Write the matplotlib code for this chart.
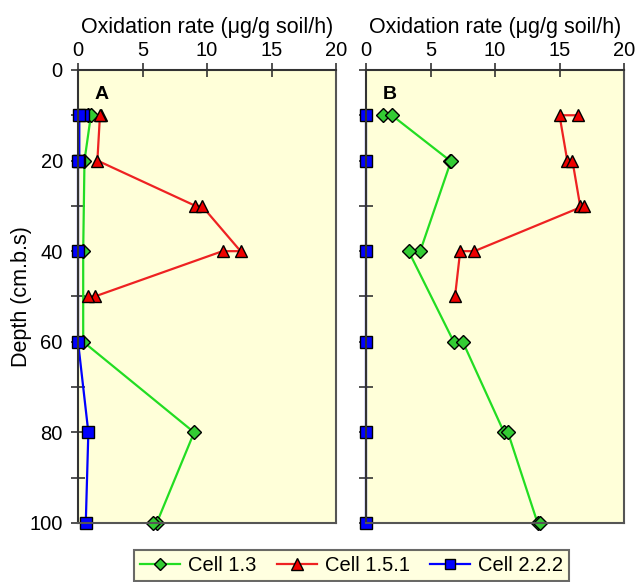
import matplotlib
matplotlib.use("Agg")
import matplotlib.pyplot as plt
from matplotlib.lines import Line2D

plt.rcParams['font.family'] = ['Liberation Sans', 'DejaVu Sans']

# Panel A (replicates listed in the order the profile line visits them)
depth_a_13 = [10, 10, 20, 40, 60, 80, 100, 100]
rate_a_13 = [0.8, 1.0, 0.5, 0.4, 0.4, 9.0, 6.1, 5.8]
depth_a_151 = [10, 10, 20, 30, 30, 40, 40, 50, 50]
rate_a_151 = [1.8, 1.7, 1.5, 9.1, 9.6, 12.6, 11.2, 1.3, 0.8]
depth_a_222 = [10, 10, 20, 20, 40, 60, 80, 100]
rate_a_222 = [0.4, 0.1, 0.1, 0.0, 0.0, 0.0, 0.8, 0.6]

# Panel B
depth_b_13 = [10, 10, 20, 20, 40, 40, 60, 60, 80, 80, 100, 100]
rate_b_13 = [1.3, 2.0, 6.5, 6.6, 4.2, 3.3, 6.8, 7.5, 10.7, 11.0, 13.3, 13.5]
depth_b_151 = [10, 10, 20, 20, 30, 30, 40, 40, 50]
rate_b_151 = [16.4, 15.0, 15.6, 16.0, 16.6, 16.9, 8.4, 7.3, 6.9]
depth_b_222 = [10, 20, 40, 60, 80, 100]
rate_b_222 = [0.0, 0.0, 0.0, 0.0, 0.0, 0.0]

series_names = ["Cell 1.3", "Cell 1.5.1", "Cell 2.2.2"]
x_ticks = [0, 5, 10, 15, 20]
y_ticks = list(range(0, 101, 10))
y_labels = ["0", "", "20", "", "40", "", "60", "", "80", "", "100"]

styles = [
    dict(color="#22DD22", marker="D", mfc="#33CC33", ms=7),
    dict(color="#EE2222", marker="^", mfc="#EE0000", ms=9),
    dict(color="#0000FF", marker="s", mfc="#0000FF", ms=8),
]

face = "#FFFFD9"
spine_col = "#555555"

fig = plt.figure(figsize=(6.37, 5.82), dpi=100)
axA = fig.add_axes([0.1225, 0.1014, 0.405, 0.7784])
axB = fig.add_axes([0.5746, 0.1014, 0.405, 0.7784])

panels = [
    (axA, "A", [(rate_a_13, depth_a_13), (rate_a_151, depth_a_151), (rate_a_222, depth_a_222)]),
    (axB, "B", [(rate_b_13, depth_b_13), (rate_b_151, depth_b_151), (rate_b_222, depth_b_222)]),
]

for ax, tag, data in panels:
    ax.set_facecolor(face)
    for (x, y), st in zip(data, styles):
        ax.plot(x, y, color=st["color"], lw=1.6, marker=st["marker"],
                mfc=st["mfc"], mec="black", mew=1.0, ms=st["ms"], clip_on=False)
    ax.set_xlim(0, 20)
    ax.set_ylim(100, 0)
    ax.xaxis.tick_top()
    ax.xaxis.set_label_position("top")
    ax.set_xticks(x_ticks)
    ax.set_yticks(y_ticks)
    ax.tick_params(axis="both", direction="inout", length=10, width=1.2,
                   color="#333333", labelsize=14.5)
    ax.tick_params(axis="x", pad=2)
    ax.tick_params(axis="y", pad=6)
    ax.set_xlabel("Oxidation rate (\u03bcg/g soil/h)", fontsize=15.5, labelpad=6)
    for s in ax.spines.values():
        s.set_color(spine_col)
        s.set_linewidth(1.5)
    ax.spines["top"].set_color("#333333")
    ax.spines["left"].set_color("#333333")
    ax.text(0.065, 0.965, tag, transform=ax.transAxes, fontsize=14,
            fontweight="bold", ha="left", va="top")

axA.set_yticklabels(y_labels)
axA.set_ylabel("Depth (cm.b.s)", fontsize=15.5)
axA.yaxis.set_label_coords(-0.177, 0.5)
axB.set_yticklabels([])

handles = [Line2D([], [], color=st["color"], lw=1.6, marker=st["marker"],
                  mfc=st["mfc"], mec="black", mew=1.0, ms=st["ms"] - 1)
           for st in styles]
leg = fig.legend(handles, series_names, loc="lower center", ncol=3,
                 bbox_to_anchor=(0.552, -0.016), fontsize=14.5, frameon=True,
                 fancybox=False, handlelength=2.0, columnspacing=1.0,
                 handletextpad=0.4, borderpad=0.3)
leg.get_frame().set_facecolor(face)
leg.get_frame().set_edgecolor("#444444")
leg.get_frame().set_linewidth(1.5)

fig.savefig("out.png", dpi=100, facecolor="white")
